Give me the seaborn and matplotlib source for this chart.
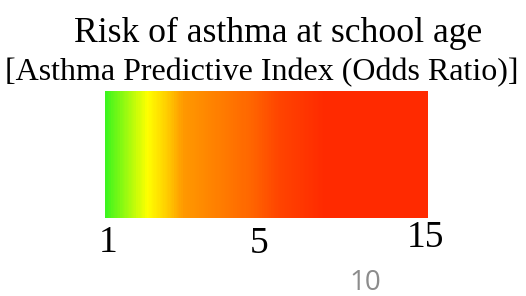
import matplotlib
matplotlib.use("Agg")
import matplotlib.pyplot as plt
import numpy as np
import seaborn as sns
from matplotlib.colors import LinearSegmentedColormap

# gradient colour stops (position along bar, colour)
stop_pos = [0.0, 0.13, 0.19, 0.24, 0.45, 0.54, 0.68, 1.0]
stop_colors = ["#3cf51e", "#ffff00", "#ffcc00", "#ff9900", "#ff6600",
               "#ff4400", "#ff2a00", "#ff2a00"]

# odds ratio tick labels, where they sit along the bar (fraction)
# and their baseline below the bar (axes fraction)
tick_labels = ["1", "5", "15"]
tick_pos = [0.009, 0.478, 0.991]
tick_base = [-0.268, -0.276, -0.228]

title = "Risk of asthma at school age"
subtitle = "[Asthma Predictive Index (Odds Ratio)]"
slide_no = "10"

sns.set_theme(style="white")
plt.rcParams["font.family"] = ["Liberation Serif", "DejaVu Serif"]
plt.rcParams["text.color"] = "black"

cmap = LinearSegmentedColormap.from_list("risk", list(zip(stop_pos, stop_colors)))
n_cells = 400
grad = np.linspace(0, 1, n_cells).reshape(1, -1)

fig = plt.figure(figsize=(5.26, 2.96), dpi=100)
ax = fig.add_axes([105 / 526, 78 / 296, 323 / 526, 127 / 296])
sns.heatmap(grad, cmap=cmap, vmin=0, vmax=1, cbar=False, ax=ax,
            xticklabels=False, yticklabels=False)
ax.set_xticks([])
ax.set_yticks([])
for s in ax.spines.values():
    s.set_visible(False)

for lab, p, b in zip(tick_labels, tick_pos, tick_base):
    ax.text(p * n_cells, b, lab, transform=ax.get_xaxis_transform(),
            ha="center", va="baseline", fontsize=27, color="black",
            family=["Liberation Serif"], clip_on=False)

fig.text(278 / 526, 0.858, title, ha="center", va="baseline", fontsize=25.7,
         color="black", family=["Liberation Serif"])
fig.text(261.5 / 526, 0.730, subtitle, ha="center", va="baseline", fontsize=23,
         color="black", family=["Liberation Serif"])
fig.text(365 / 526, 0.0203, slide_no, ha="center", va="baseline", fontsize=20,
         color="#8c8c8c", family=["Open Sans"])

fig.savefig("out.png", dpi=100)
